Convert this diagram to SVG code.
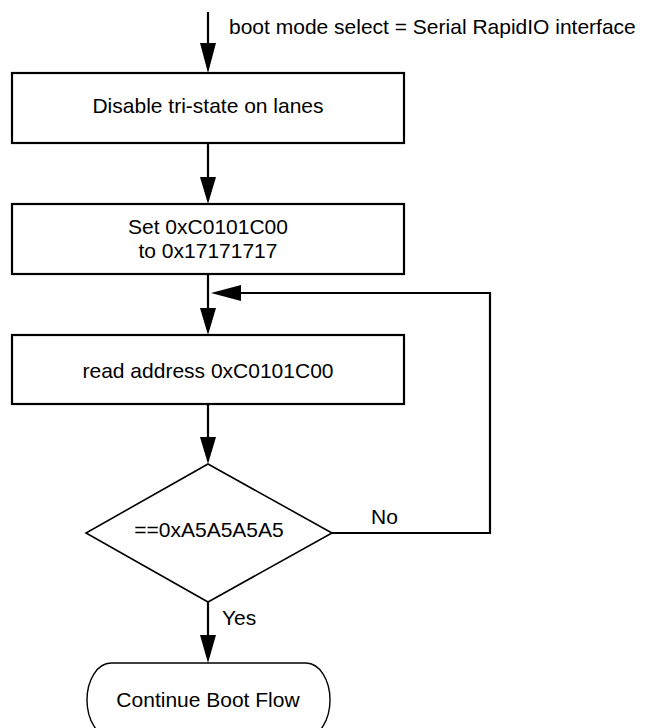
<svg xmlns="http://www.w3.org/2000/svg" width="649" height="728" viewBox="0 0 649 728">
<defs>
<style>
text{font-family:"Liberation Sans",Arial,sans-serif;font-size:21px;fill:#000}
.c{text-anchor:middle}
.box{fill:#fff;stroke:#000;stroke-width:2.2}
.dia{fill:#fff;stroke:#000;stroke-width:1.6}
.term{fill:#fff;stroke:#000;stroke-width:1.4}
.ln{fill:none;stroke:#000;stroke-width:2.2}
.ah{fill:#000}
</style>
</defs>
<rect width="649" height="728" fill="#fff"/>
<g id="connectors">
<line class="ln" x1="208" y1="12" x2="208" y2="45"/>
<polygon class="ah" points="200,43 216,43 208,73"/>
<line class="ln" x1="208" y1="143" x2="208" y2="179"/>
<polygon class="ah" points="200,177 216,177 208,204"/>
<line class="ln" x1="208" y1="274" x2="208" y2="310"/>
<polygon class="ah" points="200,308 216,308 208,335"/>
<polyline class="ln" points="332,533 490,533 490,293 239,293"/>
<polygon class="ah" points="241,285 241,301 211,293"/>
<line class="ln" x1="208" y1="404" x2="208" y2="439"/>
<polygon class="ah" points="200,437 216,437 208,464"/>
<line class="ln" x1="208" y1="602" x2="208" y2="637"/>
<polygon class="ah" points="200,635 216,635 208,663"/>
<text x="229" y="34">boot mode select = Serial RapidIO interface</text>
<text x="371" y="524">No</text>
<text x="222" y="625">Yes</text>
</g>
<g id="disable">
<rect class="box" x="12" y="73" width="392" height="70"/>
<text class="c" x="208" y="113">Disable tri-state on lanes</text>
</g>
<g id="set">
<rect class="box" x="12" y="204" width="392" height="70"/>
<text class="c" x="208" y="234">Set 0xC0101C00</text>
<text class="c" x="208" y="258">to 0x17171717</text>
</g>
<g id="read">
<rect class="box" x="12" y="335" width="392" height="69"/>
<text class="c" x="208" y="378">read address 0xC0101C00</text>
</g>
<g id="decision">
<polygon class="dia" points="208,464 332,533 208,602 86,533"/>
<text class="c" x="209" y="537">==0xA5A5A5A5</text>
</g>
<g id="continue">
<rect class="term" x="87" y="663" width="243" height="74" rx="24" ry="37"/>
<text class="c" x="208" y="707">Continue Boot Flow</text>
</g>
</svg>
